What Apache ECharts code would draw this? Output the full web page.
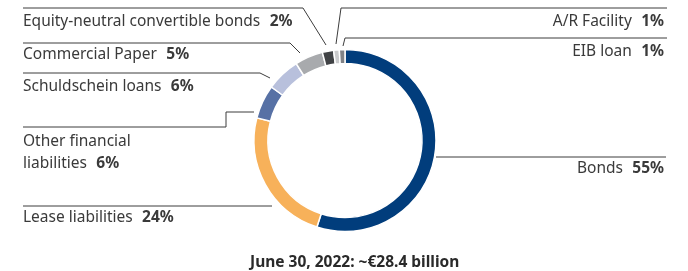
<!DOCTYPE html>
<html>
<head>
<meta charset="utf-8">
<script src="https://cdn.jsdelivr.net/npm/echarts@6/dist/echarts.min.js"></script>
<style>
  html, body { margin: 0; padding: 0; background: #fff; }
  #main { width: 688px; height: 271px; }
</style>
</head>
<body>
<div id="main"></div>
<script>
// share of financial liabilities, in percent
var names = ['Bonds', 'Lease liabilities', 'Other financial liabilities', 'Schuldschein loans',
  'Commercial Paper', 'Equity-neutral convertible bonds', 'A/R Facility', 'EIB loan'];
var shares = [55, 24, 6, 6, 5, 2, 1, 1];
var totalLabel = 'June 30, 2022: ~€28.4 billion';

var colors = ['#013d7c', '#f7b15a', '#5771a5', '#b8c0dc', '#a8aaad', '#404245', '#cacbcd', '#808286'];

// where each label sits and how its leader line runs
var layouts = [
  { x: 664, y: 169, align: 'right', pts: [[436, 157], [550, 157], [666, 157]] },
  { x: 23, y: 218, align: 'left', pts: [[272, 206], [150, 206], [23, 206]] },
  { x: 23, y: 153, align: 'left', pts: [[254, 112], [226, 112], [226, 127], [23, 127]] },
  { x: 23, y: 87, align: 'left', pts: [[270, 78], [260, 73], [23, 73]] },
  { x: 23, y: 55, align: 'left', pts: [[300, 53], [290, 43], [23, 43]] },
  { x: 23, y: 22, align: 'left', pts: [[326, 45], [303, 8], [23, 8]] },
  { x: 664, y: 22, align: 'right', pts: [[336, 44], [341, 8], [667, 8]] },
  { x: 664, y: 52, align: 'right', pts: [[343, 46], [345, 38], [667, 38]] }
];

var chart = echarts.init(document.getElementById('main'), null, { renderer: 'canvas' });

var data = names.map(function (n, i) {
  return { name: n, value: shares[i], itemStyle: { color: colors[i] } };
});

var option = {
  animation: false,
  title: {
    text: totalLabel,
    left: 250,
    top: 254,
    padding: 0,
    textStyle: {
      fontFamily: 'Noto Sans',
      fontSize: 15.5,
      lineHeight: 18,
      fontWeight: 'bold',
      color: '#2a2a2a'
    }
  },
  series: [{
    type: 'pie',
    center: [345, 140.5],
    radius: [77, 91],
    startAngle: 90,
    clockwise: true,
    avoidLabelOverlap: false,
    itemStyle: { borderColor: '#fff', borderWidth: 1.5 },
    label: {
      show: true,
      position: 'outside',
      fontFamily: 'Noto Sans',
      formatter: function (p) {
        if (p.dataIndex === 2) {
          return '{n|Other financial}\n{n|liabilities}   {v|' + p.value + '%}';
        }
        return '{n|' + p.name + '}   {v|' + p.value + '%}';
      },
      rich: {
        n: { fontFamily: 'Noto Sans', fontSize: 15.5, color: '#3a3a3a', lineHeight: 22 },
        v: { fontFamily: 'Noto Sans', fontSize: 15.5, fontWeight: 'bold', color: '#3a3a3a', lineHeight: 22 }
      }
    },
    labelLine: {
      show: true,
      smooth: false,
      lineStyle: { color: '#3c3c3c', width: 1 }
    },
    labelLayout: function (params) {
      var L = layouts[params.dataIndex];
      return {
        x: L.x,
        y: L.y,
        align: L.align,
        verticalAlign: 'middle',
        labelLinePoints: L.pts
      };
    },
    data: data
  }]
};

chart.setOption(option);
</script>
</body>
</html>
